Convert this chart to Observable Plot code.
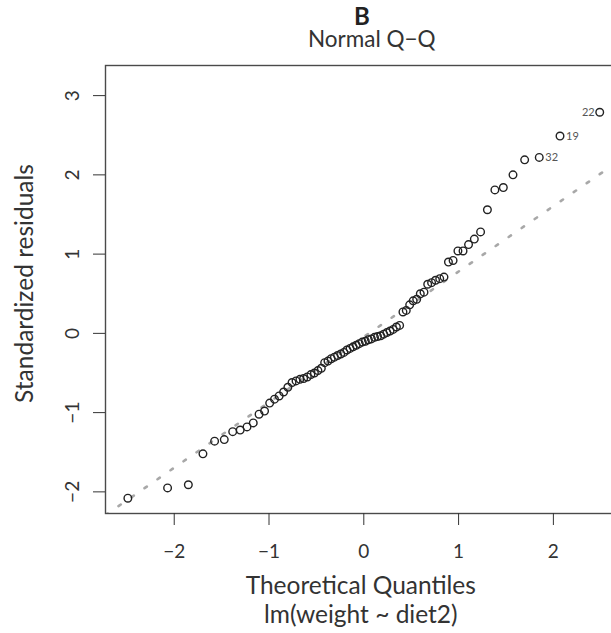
<!DOCTYPE html>
<html><head><meta charset="utf-8">
<script src="https://cdn.jsdelivr.net/npm/d3@7"></script>
<script src="https://cdn.jsdelivr.net/npm/@observablehq/plot@0.6"></script>
<style>
html,body{margin:0;padding:0;background:#fff;overflow:hidden;}
</style></head><body><div id="chart"></div>
<script>
// Theoretical normal quantiles (n = 78) and sorted standardized residuals
const theoreticalQuantiles = [
  -2.489, -2.070, -1.851, -1.697, -1.574, -1.472, -1.383, -1.304, -1.232, -1.166,
  -1.105, -1.047, -0.993, -0.942, -0.893, -0.846, -0.801, -0.757, -0.715, -0.674,
  -0.635, -0.596, -0.558, -0.521, -0.484, -0.448, -0.413, -0.378, -0.344, -0.310,
  -0.277, -0.243, -0.210, -0.178, -0.145, -0.113, -0.080, -0.048, -0.016,
  0.016, 0.048, 0.080, 0.113, 0.145, 0.178, 0.210, 0.243, 0.277, 0.310,
  0.344, 0.378, 0.413, 0.448, 0.484, 0.521, 0.558, 0.596, 0.635, 0.674,
  0.715, 0.757, 0.801, 0.846, 0.893, 0.942, 0.993, 1.047, 1.105, 1.166,
  1.232, 1.304, 1.383, 1.472, 1.574, 1.697, 1.851, 2.070, 2.489
];
const standardizedResiduals = [
  -2.08, -1.95, -1.91, -1.52, -1.36, -1.34, -1.24, -1.22, -1.18, -1.13,
  -1.02, -0.98, -0.88, -0.83, -0.79, -0.74, -0.68, -0.62, -0.60, -0.58,
  -0.57, -0.55, -0.52, -0.50, -0.47, -0.44, -0.37, -0.35, -0.32, -0.30,
  -0.28, -0.26, -0.24, -0.21, -0.19, -0.17, -0.15, -0.13, -0.11,
  -0.10, -0.08, -0.07, -0.05, -0.04, -0.03, -0.01, 0.01, 0.03, 0.05,
  0.08, 0.10, 0.27, 0.29, 0.36, 0.41, 0.43, 0.50, 0.52, 0.62,
  0.64, 0.67, 0.69, 0.71, 0.90, 0.92, 1.04, 1.04, 1.12, 1.19,
  1.28, 1.56, 1.81, 1.84, 2.00, 2.19, 2.22, 2.49, 2.79
];
const xTicks = [-2, -1, 0, 1, 2];
const yTicks = [-2, -1, 0, 1, 2, 3];
const labelIds = ["32", "19", "22"];
const labelRanks = [76, 77, 78];
const labelPos = [4, 4, 2]; // R text pos: 4 = right, 2 = left
const qqIntercept = -0.045;
const qqSlope = 0.825;
const panelLetter = "B";
const caption = "Normal Q\u2212Q";
const xLabel1 = "Theoretical Quantiles";
const xLabel2 = "lm(weight ~ diet2)";
const yLabel = "Standardized residuals";

const points = theoreticalQuantiles.map((x, i) => ({x, y: standardizedResiduals[i]}));
const labels = labelIds.map((id, k) => ({id, ...points[labelRanks[k] - 1], pos: labelPos[k]}));
const xDomain = [-2.725, 2.725];
const yDomain = [-2.273, 3.38];
const qqLine = xDomain.map(x => ({x, y: qqIntercept + qqSlope * x}));
const fmt = d => d < 0 ? "\u2212" + (-d) : String(d);
const font = "Lato, 'Open Sans', sans-serif";
const ink = "#333";

const chart = Plot.plot({
  width: 611, height: 633,
  marginLeft: 105, marginRight: -10.6, marginTop: 65, marginBottom: 120,
  style: {fontFamily: font, color: ink, background: "#fff"},
  x: {domain: xDomain},
  y: {domain: yDomain},
  marks: [
    Plot.line(qqLine, {x: "x", y: "y", stroke: "#a8a8a8", strokeWidth: 2.6, strokeDasharray: "2.8,13", clip: true}),
    Plot.dot(points, {x: "x", y: "y", r: 3.8, stroke: "#222", strokeWidth: 1.4, fill: "none"}),
    Plot.text(labels.filter(d => d.pos === 4), {x: "x", y: "y", text: "id", textAnchor: "start", dx: 6, fontSize: 11, fill: "#555"}),
    Plot.text(labels.filter(d => d.pos === 2), {x: "x", y: "y", text: "id", textAnchor: "end", dx: -5, fontSize: 11, fill: "#555"}),
    Plot.frame({stroke: "#4a4a4a", strokeWidth: 1.4}),
    Plot.axisX({ticks: xTicks, tickSize: 12, tickPadding: 19, tickFormat: fmt, fontSize: 19, label: null}),
    Plot.axisY({ticks: yTicks, tickSize: 12, tickFormat: () => "", label: null}),
    Plot.text(yTicks, {y: d => d, text: fmt, frameAnchor: "left", dx: -33, rotate: -90, textAnchor: "middle", lineAnchor: "middle", fontSize: 19, fill: ink}),
    Plot.text([yLabel], {text: d => d, frameAnchor: "left", dx: -80, dy: -6, rotate: -90, textAnchor: "middle", lineAnchor: "middle", fontSize: 24.5, fill: ink}),
    Plot.text([xLabel1], {text: d => d, frameAnchor: "bottom", dy: 73, dx: -3, textAnchor: "middle", lineAnchor: "middle", fontSize: 24.5, fill: ink}),
    Plot.text([xLabel2], {text: d => d, frameAnchor: "bottom", dy: 102, dx: -3, textAnchor: "middle", lineAnchor: "middle", fontSize: 24.5, fill: ink}),
    Plot.text([panelLetter], {text: d => d, frameAnchor: "top", dy: -48, dx: -2, textAnchor: "middle", lineAnchor: "middle", fontSize: 24, fontWeight: "bold", fill: "#222"}),
    Plot.text([caption], {text: d => d, frameAnchor: "top", dy: -26, dx: 8, textAnchor: "middle", lineAnchor: "middle", fontSize: 22.5, fill: ink})
  ]
});
document.getElementById("chart").append(chart);
</script>
</body></html>
